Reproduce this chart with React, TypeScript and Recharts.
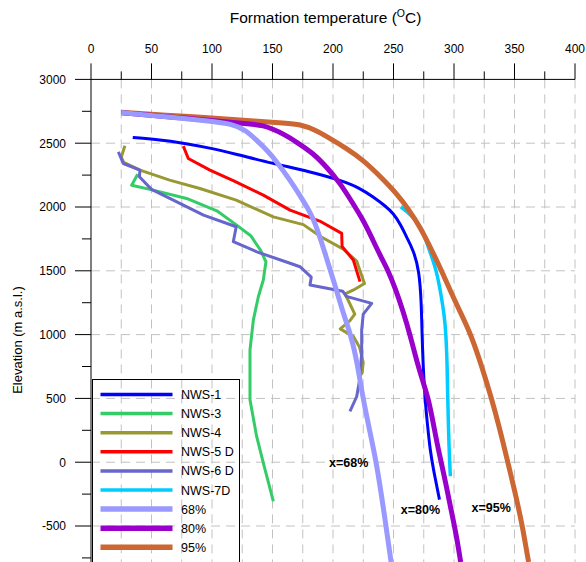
import React from 'react';
import { LineChart, Line, XAxis, YAxis, CartesianGrid, Legend, ReferenceDot } from 'recharts';

type P = { t: number; e: number };

const nws1: P[] = [
  { t: 34.5, e: 2545 }, { t: 55, e: 2528 }, { t: 76, e: 2502 }, { t: 97, e: 2465 }, { t: 118, e: 2419 },
  { t: 150, e: 2341 }, { t: 180, e: 2280 }, { t: 206, e: 2211 }, { t: 222, e: 2150 }, { t: 233, e: 2080 },
  { t: 243, e: 2010 }, { t: 250, e: 1950 }, { t: 256, e: 1860 }, { t: 261, e: 1760 }, { t: 266.4, e: 1663 },
  { t: 271.3, e: 1500 }, { t: 273, e: 1250 }, { t: 273.6, e: 1000 }, { t: 274.5, e: 750 }, { t: 276, e: 500 },
  { t: 278, e: 300 }, { t: 280.2, e: 98 }, { t: 283, e: -59 }, { t: 288, e: -293 },
];
const nws3: P[] = [
  { t: 38.6, e: 2257 }, { t: 33.6, e: 2171 }, { t: 48.8, e: 2138 }, { t: 79, e: 2067 }, { t: 104, e: 1970 },
  { t: 120.4, e: 1858 }, { t: 132, e: 1775 }, { t: 140, e: 1663 }, { t: 144.6, e: 1571 }, { t: 142.4, e: 1428 },
  { t: 138.3, e: 1297 }, { t: 134.2, e: 1115 }, { t: 131.4, e: 880 }, { t: 131.4, e: 489 }, { t: 136.9, e: 202 },
  { t: 142.4, e: -6 }, { t: 150.7, e: -307 },
];
const nws4: P[] = [
  { t: 28, e: 2480 }, { t: 25, e: 2390 }, { t: 27, e: 2350 }, { t: 40.5, e: 2289 }, { t: 65, e: 2211 },
  { t: 90, e: 2145 }, { t: 120, e: 2054 }, { t: 150.7, e: 1923 }, { t: 175.5, e: 1862 }, { t: 190, e: 1767 },
  { t: 208.5, e: 1670 }, { t: 219.6, e: 1575 }, { t: 226, e: 1400 }, { t: 217, e: 1350 }, { t: 210, e: 1320 },
  { t: 214, e: 1240 }, { t: 218, e: 1160 }, { t: 214, e: 1110 }, { t: 206, e: 1045 }, { t: 217, e: 984 },
  { t: 222, e: 900 }, { t: 225, e: 780 }, { t: 224, e: 700 }, { t: 222, e: 671 },
];
const nws5: P[] = [
  { t: 76.3, e: 2477 }, { t: 80.4, e: 2380 }, { t: 98.3, e: 2289 }, { t: 118, e: 2205 }, { t: 142.4, e: 2093 },
  { t: 164.5, e: 1976 }, { t: 189, e: 1890 }, { t: 207.2, e: 1793 }, { t: 207.5, e: 1690 }, { t: 216.8, e: 1585 },
  { t: 222.3, e: 1415 },
];
const nws6: P[] = [
  { t: 22.6, e: 2432 }, { t: 26.7, e: 2341 }, { t: 40.5, e: 2289 }, { t: 40, e: 2237 }, { t: 50, e: 2138 },
  { t: 68, e: 2054 }, { t: 93, e: 1937 }, { t: 120, e: 1845 }, { t: 117.6, e: 1728 }, { t: 137, e: 1649 },
  { t: 164.5, e: 1559 }, { t: 172.7, e: 1532 }, { t: 182, e: 1450 }, { t: 181, e: 1389 }, { t: 208, e: 1340 },
  { t: 211, e: 1300 }, { t: 232, e: 1245 }, { t: 225, e: 1160 }, { t: 223.7, e: 1037 }, { t: 223.7, e: 854 },
  { t: 222, e: 646 }, { t: 219.6, e: 515 }, { t: 214, e: 398 },
];
const nws7: P[] = [
  { t: 256, e: 2002 }, { t: 261, e: 1965 }, { t: 266, e: 1920 }, { t: 271, e: 1860 }, { t: 275, e: 1790 },
  { t: 279.6, e: 1663 }, { t: 285.7, e: 1500 }, { t: 289.5, e: 1300 }, { t: 292, e: 1150 }, { t: 293.4, e: 1000 },
  { t: 294.4, e: 750 }, { t: 294.8, e: 500 }, { t: 295.9, e: 98 }, { t: 297, e: -110 },
];
const p68: P[] = [
  { t: 25, e: 2740 }, { t: 47, e: 2720 }, { t: 70, e: 2700 }, { t: 95, e: 2676 }, { t: 118, e: 2650 },
  { t: 128, e: 2600 }, { t: 137, e: 2523 }, { t: 146, e: 2440 }, { t: 154, e: 2350 }, { t: 164.5, e: 2210 },
  { t: 174, e: 2070 }, { t: 184, e: 1920 }, { t: 193, e: 1650 }, { t: 202, e: 1376 }, { t: 209, e: 1150 },
  { t: 215, e: 990 }, { t: 220, e: 780 }, { t: 224, e: 540 }, { t: 230, e: 260 }, { t: 236, e: -6 },
  { t: 242, e: -380 }, { t: 248, e: -782 },
];
const p80: P[] = [
  { t: 25, e: 2738 }, { t: 70, e: 2703 }, { t: 118, e: 2662 }, { t: 135, e: 2648 }, { t: 142, e: 2638 },
  { t: 150, e: 2612 }, { t: 160, e: 2568 }, { t: 170, e: 2508 }, { t: 184, e: 2419 }, { t: 195, e: 2310 },
  { t: 206, e: 2185 }, { t: 215, e: 2050 }, { t: 225, e: 1897 }, { t: 232, e: 1760 }, { t: 239, e: 1620 },
  { t: 245.7, e: 1500 }, { t: 252, e: 1350 }, { t: 258, e: 1180 }, { t: 263.6, e: 1000 }, { t: 269, e: 800 },
  { t: 274, e: 640 }, { t: 278.8, e: 500 }, { t: 283, e: 300 }, { t: 287, e: 98 }, { t: 292, e: -110 },
  { t: 297, e: -346 }, { t: 301.5, e: -550 }, { t: 305, e: -750 }, { t: 305.5, e: -782 },
];
const p95: P[] = [
  { t: 25, e: 2742 }, { t: 62, e: 2720 }, { t: 100, e: 2698 }, { t: 137, e: 2673 }, { t: 160, e: 2657 },
  { t: 173, e: 2648 }, { t: 185, e: 2605 }, { t: 197.5, e: 2537 }, { t: 211, e: 2460 }, { t: 225, e: 2367 },
  { t: 239, e: 2240 }, { t: 252.6, e: 2106 }, { t: 263, e: 1975 }, { t: 272.5, e: 1835 }, { t: 281.5, e: 1663 },
  { t: 289.8, e: 1500 }, { t: 298, e: 1320 }, { t: 306, e: 1160 }, { t: 314, e: 1000 }, { t: 323, e: 750 },
  { t: 331, e: 500 }, { t: 337, e: 290 }, { t: 342, e: 98 }, { t: 347, e: -100 }, { t: 352, e: -300 },
  { t: 356.5, e: -500 }, { t: 361, e: -750 }, { t: 361.7, e: -782 },
];

const xTicks = [0, 25, 50, 75, 100, 125, 150, 175, 200, 225, 250, 275, 300, 325, 350, 375, 400];
const yTicks = [-750, -500, -250, 0, 250, 500, 750, 1000, 1250, 1500, 1750, 2000, 2250, 2500, 2750, 3000];
const gridX = [25, 50, 75, 100, 125, 150, 175, 200, 225, 250, 275, 300, 325, 350, 375, 400];
const gridY = [-500, 0, 500, 1000, 1500, 2000, 2500];

const annotations = [
  { t: 213, e: 0, text: 'x=68%' },
  { t: 272.3, e: -372, text: 'x=80%' },
  { t: 330.7, e: -354, text: 'x=95%' },
];

const series = [
  { name: 'NWS-1', data: nws1, color: '#0000FF', width: 3, curve: 'basis', lw: 3.5 },
  { name: 'NWS-3', data: nws3, color: '#33CC66', width: 3, curve: 'linear', lw: 3.5 },
  { name: 'NWS-4', data: nws4, color: '#999933', width: 3, curve: 'linear', lw: 3.5 },
  { name: 'NWS-5 D', data: nws5, color: '#FF0000', width: 3, curve: 'linear', lw: 3.5 },
  { name: 'NWS-6 D', data: nws6, color: '#6666CC', width: 3, curve: 'linear', lw: 3.5 },
  { name: 'NWS-7D', data: nws7, color: '#00CCFF', width: 3.5, curve: 'basis', lw: 3.5 },
  { name: '68%', data: p68, color: '#9999FF', width: 5, curve: 'basis', lw: 5.5 },
  { name: '80%', data: p80, color: '#9900CC', width: 5, curve: 'basis', lw: 5.5 },
  { name: '95%', data: p95, color: '#CC6633', width: 5, curve: 'basis', lw: 5.5 },
];
const drawOrder = ['NWS-1', 'NWS-3', 'NWS-4', 'NWS-5 D', 'NWS-6 D', 'NWS-7D', '95%', '80%', '68%'];

const FONT = '"Liberation Sans", Arial, sans-serif';

const XTick = (props: any) => {
  const { x, y, payload } = props;
  const major = payload.value % 50 === 0;
  return (
    <g>
      <line x1={x} y1={y} x2={x} y2={y - (major ? 16 : 8)} stroke="#000" strokeWidth={1} />
      {major && (
        <text x={x} y={y - 26} textAnchor="middle" fontSize={12} fontFamily={FONT} fill="#000">
          {payload.value}
        </text>
      )}
    </g>
  );
};

const YTick = (props: any) => {
  const { x, y, payload } = props;
  const major = payload.value % 500 === 0;
  return (
    <g>
      <line x1={x - (major ? 16 : 9)} y1={y} x2={x} y2={y} stroke="#000" strokeWidth={1} />
      {major && (
        <text x={x - 25} y={y + 4.4} textAnchor="end" fontSize={12} fontFamily={FONT} fill="#000">
          {payload.value}
        </text>
      )}
    </g>
  );
};

const LegendBox = () => (
  <div style={{ border: '1px solid #000', width: 148, height: 200, boxSizing: 'border-box', background: 'transparent' }}>
    <svg width={148} height={200} style={{ display: 'block', overflow: 'visible' }}>
      {series.map((s, i) => {
        const cy = 14.5 + i * 19.1;
        return (
          <g key={s.name}>
            <line x1={7.5} y1={cy} x2={79.5} y2={cy} stroke={s.color} strokeWidth={s.lw} />
            <text x={88} y={cy + 4.5} fontSize={12.5} fontFamily={FONT} fill="#000">
              {s.name}
            </text>
          </g>
        );
      })}
    </svg>
  </div>
);

const TitleLabel = () => (
  <text x={325.5} y={23} textAnchor="middle" fontSize={15.5} fontFamily={FONT} fill="#000">
    Formation temperature (
    <tspan fontSize={10.5} dy={-6}>O</tspan>
    <tspan fontSize={15.5} dy={6}>C)</tspan>
  </text>
);

const YLabel = () => (
  <text transform="translate(22,340) rotate(-90)" textAnchor="middle" fontSize={13} fontFamily={FONT} fill="#000">
    Elevation (m a.s.l.)
  </text>
);

export default function App() {
  return (
    <div style={{ position: 'absolute', left: 0, top: 0, width: 586, height: 562, background: '#fff' }}>
      <LineChart width={586} height={562} margin={{ top: 39.4, right: 11, bottom: 0, left: 31 }}>
        <CartesianGrid
          stroke="#c2c2c2"
          strokeDasharray="9 6"
          horizontalValues={gridY}
          verticalValues={gridX}
        />
        <XAxis
          type="number"
          dataKey="t"
          orientation="top"
          domain={[0, 400]}
          ticks={xTicks}
          interval={0}
          height={40}
          tickSize={0}
          tickMargin={0}
          tickLine={false}
          axisLine={{ stroke: '#000' }}
          tick={<XTick />}
          label={<TitleLabel />}
          allowDataOverflow
        />
        <YAxis
          type="number"
          dataKey="e"
          domain={[-782, 3000]}
          ticks={yTicks}
          interval={0}
          width={60}
          tickSize={0}
          tickMargin={0}
          tickLine={false}
          axisLine={{ stroke: '#000' }}
          tick={<YTick />}
          label={<YLabel />}
          allowDataOverflow
        />
        {drawOrder.map((n) => {
          const s = series.find((q) => q.name === n)!;
          return (
            <Line
              key={s.name}
              name={s.name}
              data={s.data}
              dataKey="e"
              type={s.curve as any}
              stroke={s.color}
              strokeWidth={s.width}
              strokeLinejoin="round"
              dot={false}
              activeDot={false}
              isAnimationActive={false}
            />
          );
        })}
        {annotations.map((a) => (
          <ReferenceDot
            key={a.text}
            x={a.t}
            y={a.e}
            r={1}
            fill="none"
            stroke="none"
            label={{
              content: (p: any) => {
                const vb = p.viewBox || {};
                const cx = (vb.x ?? 0) + (vb.width ?? 0) / 2;
                const cy = (vb.y ?? 0) + (vb.height ?? 0) / 2;
                return (
                  <text x={cx} y={cy + 4.5} textAnchor="middle" fontSize={12.5} fontWeight="bold" fontFamily={FONT} fill="#000">
                    {a.text}
                  </text>
                );
              },
            }}
          />
        ))}
        <Legend
          layout="vertical"
          align="center"
          verticalAlign="middle"
          content={<LegendBox />}
          wrapperStyle={{ left: 92.3, top: 379.3, width: 148, height: 200 }}
        />
      </LineChart>
    </div>
  );
}
